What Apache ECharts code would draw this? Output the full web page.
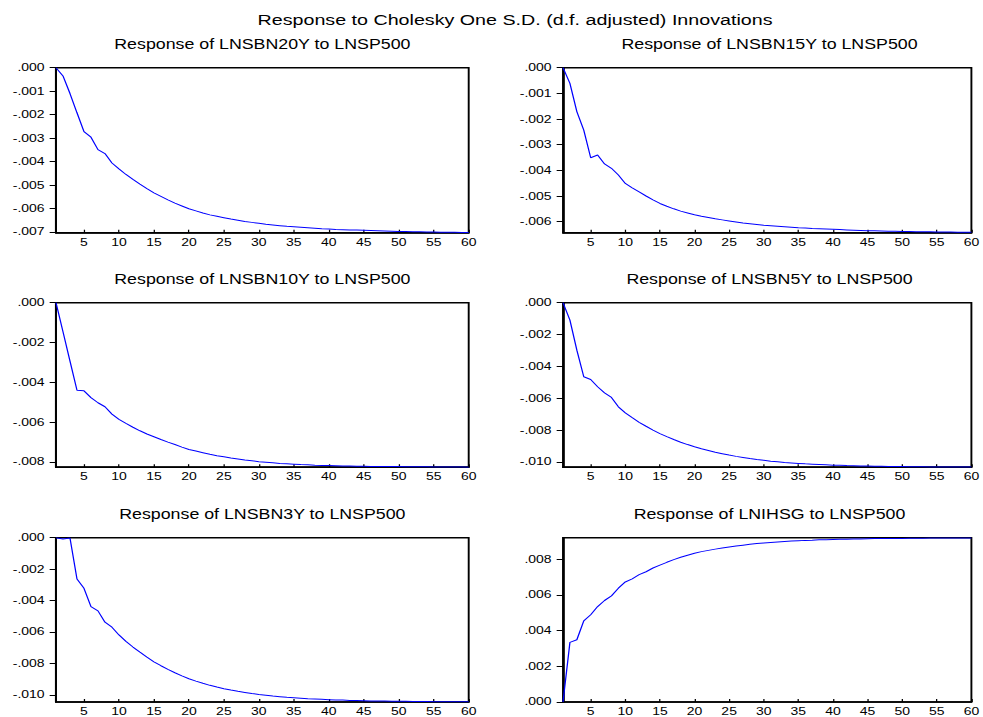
<!DOCTYPE html>
<html>
<head>
<meta charset="utf-8">
<script src="https://cdn.jsdelivr.net/npm/echarts@6/dist/echarts.min.js"></script>
<style>
html,body{margin:0;padding:0;background:#fff;overflow:hidden;}
#wrap{width:983px;height:717px;overflow:hidden;}
#chart{height:717px;transform-origin:0 0;}
</style>
</head>
<body>
<div id="wrap"><div id="chart"></div></div>
<script>
// ---- data ----
const mainTitle = 'Response to Cholesky One S.D. (d.f. adjusted) Innovations';
const panelTitles = [
  'Response of LNSBN20Y to LNSP500',
  'Response of LNSBN15Y to LNSP500',
  'Response of LNSBN10Y to LNSP500',
  'Response of LNSBN5Y to LNSP500',
  'Response of LNSBN3Y to LNSP500',
  'Response of LNIHSG to LNSP500'
];
const periods = Array.from({length: 60}, (_, i) => i + 1);
const xTicks = [5, 10, 15, 20, 25, 30, 35, 40, 45, 50, 55, 60];

const lnsbn20y = [0,-0.00035,-0.00110,-0.00192,-0.00272,-0.00296,-0.00349,-0.00366,-0.00406,-0.00431,
  -0.00455,-0.00476,-0.00496,-0.00515,-0.00533,-0.00548,-0.00563,-0.00577,-0.00589,-0.00601,
  -0.00610,-0.00619,-0.00627,-0.00633,-0.00639,-0.00645,-0.00650,-0.00655,-0.00659,-0.00663,
  -0.00667,-0.00670,-0.00673,-0.00676,-0.00678,-0.00680,-0.00682,-0.00684,-0.00686,-0.00687,
  -0.00689,-0.00690,-0.00691,-0.00692,-0.00693,-0.00694,-0.00695,-0.00696,-0.00697,-0.00698,
  -0.00698,-0.00699,-0.00699,-0.00700,-0.00700,-0.00701,-0.00701,-0.00701,-0.00702,-0.00702];
const lnsbn15y = [0,-0.00061,-0.00171,-0.00243,-0.00351,-0.00340,-0.00375,-0.00392,-0.00418,-0.00451,
  -0.00468,-0.00484,-0.00500,-0.00515,-0.00529,-0.00540,-0.00550,-0.00559,-0.00566,-0.00573,
  -0.00579,-0.00584,-0.00589,-0.00593,-0.00597,-0.00601,-0.00605,-0.00608,-0.00611,-0.00614,
  -0.00616,-0.00618,-0.00620,-0.00622,-0.00624,-0.00625,-0.00627,-0.00628,-0.00629,-0.00630,
  -0.00631,-0.00632,-0.00633,-0.00634,-0.00635,-0.00635,-0.00636,-0.00637,-0.00637,-0.00638,
  -0.00638,-0.00639,-0.00639,-0.00639,-0.00640,-0.00640,-0.00640,-0.00641,-0.00641,-0.00641];
const lnsbn10y = [0,-0.00146,-0.00294,-0.00440,-0.00443,-0.00477,-0.00503,-0.00523,-0.00560,-0.00587,
  -0.00607,-0.00626,-0.00644,-0.00660,-0.00674,-0.00688,-0.00701,-0.00713,-0.00726,-0.00738,
  -0.00746,-0.00754,-0.00762,-0.00769,-0.00775,-0.00781,-0.00786,-0.00791,-0.00795,-0.00799,
  -0.00802,-0.00805,-0.00808,-0.00810,-0.00812,-0.00814,-0.00815,-0.00817,-0.00818,-0.00819,
  -0.00820,-0.00821,-0.00821,-0.00822,-0.00822,-0.00823,-0.00823,-0.00824,-0.00824,-0.00824,
  -0.00825,-0.00825,-0.00825,-0.00825,-0.00826,-0.00826,-0.00826,-0.00826,-0.00826,-0.00827];
const lnsbn5y = [0,-0.00109,-0.00298,-0.00465,-0.00482,-0.00528,-0.00566,-0.00595,-0.00654,-0.00692,
  -0.00722,-0.00751,-0.00776,-0.00800,-0.00822,-0.00841,-0.00859,-0.00876,-0.00891,-0.00905,
  -0.00917,-0.00928,-0.00939,-0.00948,-0.00957,-0.00965,-0.00972,-0.00979,-0.00985,-0.00990,
  -0.00995,-0.00999,-0.01003,-0.01006,-0.01009,-0.01012,-0.01014,-0.01016,-0.01018,-0.01020,
  -0.01021,-0.01023,-0.01024,-0.01025,-0.01026,-0.01027,-0.01027,-0.01028,-0.01029,-0.01029,
  -0.01030,-0.01030,-0.01030,-0.01031,-0.01031,-0.01031,-0.01032,-0.01032,-0.01032,-0.01032];
const lnsbn3y = [0,-0.00008,-0.00002,-0.00263,-0.00322,-0.00439,-0.00466,-0.00538,-0.00570,-0.00619,
  -0.00660,-0.00696,-0.00729,-0.00761,-0.00790,-0.00815,-0.00838,-0.00860,-0.00880,-0.00898,
  -0.00913,-0.00927,-0.00940,-0.00951,-0.00961,-0.00970,-0.00978,-0.00985,-0.00992,-0.00998,
  -0.01003,-0.01008,-0.01012,-0.01016,-0.01019,-0.01022,-0.01025,-0.01027,-0.01029,-0.01031,
  -0.01033,-0.01034,-0.01036,-0.01037,-0.01038,-0.01039,-0.01040,-0.01040,-0.01041,-0.01042,
  -0.01042,-0.01043,-0.01043,-0.01043,-0.01044,-0.01044,-0.01044,-0.01045,-0.01045,-0.01045];
const lnihsg = [0,0.00334,0.00349,0.00455,0.00489,0.00535,0.00569,0.00595,0.00638,0.00673,
  0.00690,0.00714,0.00730,0.00751,0.00767,0.00783,0.00798,0.00811,0.00823,0.00834,
  0.00843,0.00850,0.00857,0.00863,0.00869,0.00874,0.00879,0.00884,0.00888,0.00891,
  0.00894,0.00897,0.00900,0.00902,0.00904,0.00906,0.00907,0.00909,0.00910,0.00911,
  0.00912,0.00913,0.00914,0.00914,0.00915,0.00916,0.00916,0.00917,0.00917,0.00917,
  0.00918,0.00918,0.00918,0.00919,0.00919,0.00919,0.00919,0.00920,0.00920,0.00920];

const yTicks20 = [0,-0.001,-0.002,-0.003,-0.004,-0.005,-0.006,-0.007];
const yTicks15 = [0,-0.001,-0.002,-0.003,-0.004,-0.005,-0.006];
const yTicks10 = [0,-0.002,-0.004,-0.006,-0.008];
const yTicks5  = [0,-0.002,-0.004,-0.006,-0.008,-0.010];
const yTicks3  = [0,-0.002,-0.004,-0.006,-0.008,-0.010];
const yTicksIH = [0,0.002,0.004,0.006,0.008];

const yRanges = [[-0.00703,0],[-0.00643,0],[-0.00827,0],[-0.01033,0],[-0.01046,0],[0,0.00921]];

// ---- layout (screen px); the drawing is stretched horizontally like the reference ----
const S = 1.27;
document.getElementById('chart').style.width = (983 / S) + 'px';
document.getElementById('chart').style.transform = 'scaleX(' + S + ')';

const colLeft = [56, 563], colRight = [468.7, 976];
const rowTop = [67.7, 302.7, 537.7], rowH = [165, 164.5, 164.6];

const seriesData = [lnsbn20y, lnsbn15y, lnsbn10y, lnsbn5y, lnsbn3y, lnihsg];
const yTickSets = [yTicks20, yTicks15, yTicks10, yTicks5, yTicks3, yTicksIH];

const FONT = '"Liberation Sans", Arial, sans-serif';
function fmt(v) {
  const s = Math.abs(v).toFixed(3).replace(/^0/, '');
  return (v < -1e-9 ? '-' : '') + s;
}

const grids = [], xAxes = [], yAxes = [], series = [], titles = [];
titles.push({
  text: mainTitle, left: 515 / S, top: 12, padding: 0, textAlign: 'center',
  textStyle: {fontFamily: FONT, fontSize: 15.5, fontWeight: 'normal', color: '#000'}
});
for (let i = 0; i < 6; i++) {
  const c = i % 2, r = Math.floor(i / 2);
  const L = colLeft[c] / S, W = (colRight[c] - colLeft[c]) / S;
  grids.push({left: L, top: rowTop[r], width: W, height: rowH[r], show: true, borderColor: '#000', borderWidth: 1.5, backgroundColor: '#fff', containLabel: false});
  titles.push({
    text: panelTitles[i], left: L + W / 2, top: rowTop[r] - 31, padding: 0, textAlign: 'center',
    textStyle: {fontFamily: FONT, fontSize: 14, fontWeight: 'normal', color: '#000'}
  });
  xAxes.push({
    type: 'value', gridIndex: i, min: 1, max: 60,
    axisLine: {show: true, onZero: false, lineStyle: {color: '#000', width: 1.5}},
    axisTick: {show: true, inside: true, length: 3, customValues: xTicks, lineStyle: {color: '#000'}},
    axisLabel: {show: true, margin: 4, customValues: xTicks, fontFamily: FONT, fontSize: 11, color: '#000'},
    splitLine: {show: false}
  });
  yAxes.push({
    type: 'value', gridIndex: i, min: yRanges[i][0], max: yRanges[i][1],
    axisLine: {show: true, onZero: false, lineStyle: {color: '#000', width: 1.5}},
    axisTick: {show: true, inside: false, length: 5, customValues: yTickSets[i], lineStyle: {color: '#000'}},
    axisLabel: {show: true, margin: 9, customValues: yTickSets[i], formatter: fmt, fontFamily: FONT, fontSize: 11, color: '#000', verticalAlign: 'middle', padding: [0, 0, 6, 0]},
    splitLine: {show: false}
  });
  series.push({
    type: 'line', xAxisIndex: i, yAxisIndex: i,
    data: periods.map((p, k) => [p, seriesData[i][k]]),
    showSymbol: false, symbol: 'none', clip: true,
    lineStyle: {color: '#0000ff', width: 1}
  });
}

const chart = echarts.init(document.getElementById('chart'), null, {renderer: 'svg'});
chart.setOption({
  animation: false,
  backgroundColor: '#fff',
  title: titles,
  grid: grids,
  xAxis: xAxes,
  yAxis: yAxes,
  series: series
});
</script>
</body>
</html>
